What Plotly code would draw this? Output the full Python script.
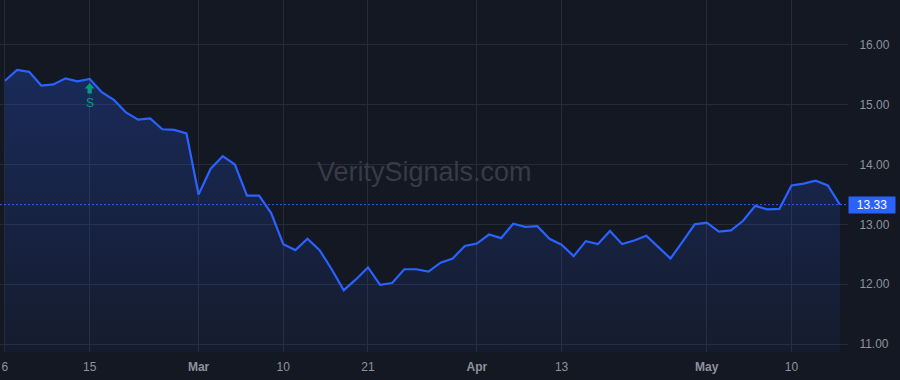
import plotly.graph_objects as go

dates = [
    "2023-02-06", "2023-02-07", "2023-02-08", "2023-02-09", "2023-02-10",
    "2023-02-13", "2023-02-14", "2023-02-15", "2023-02-16", "2023-02-17",
    "2023-02-21", "2023-02-22", "2023-02-23", "2023-02-24", "2023-02-27",
    "2023-02-28",
    "2023-03-01", "2023-03-02", "2023-03-03", "2023-03-06", "2023-03-07",
    "2023-03-08", "2023-03-09", "2023-03-10", "2023-03-13", "2023-03-14",
    "2023-03-15", "2023-03-16", "2023-03-17", "2023-03-20", "2023-03-21",
    "2023-03-22", "2023-03-23", "2023-03-24", "2023-03-27", "2023-03-28",
    "2023-03-29", "2023-03-30", "2023-03-31",
    "2023-04-03", "2023-04-04", "2023-04-05", "2023-04-06", "2023-04-10",
    "2023-04-11", "2023-04-12", "2023-04-13", "2023-04-14", "2023-04-17",
    "2023-04-18", "2023-04-19", "2023-04-20", "2023-04-21", "2023-04-24",
    "2023-04-25", "2023-04-26", "2023-04-27", "2023-04-28",
    "2023-05-01", "2023-05-02", "2023-05-03", "2023-05-04", "2023-05-05",
    "2023-05-08", "2023-05-09", "2023-05-10", "2023-05-11", "2023-05-12",
    "2023-05-15", "2023-05-16",
]

prices = [
    15.40, 15.58, 15.55, 15.32, 15.34, 15.44, 15.39, 15.43, 15.21, 15.08,
    14.87, 14.75, 14.77, 14.59, 14.58, 14.52, 13.50, 13.93, 14.14, 14.00,
    13.48, 13.48, 13.19, 12.67, 12.57, 12.76, 12.57, 12.25, 11.90, 12.08,
    12.28, 11.99, 12.02, 12.25, 12.25, 12.21, 12.36, 12.43, 12.64, 12.68,
    12.83, 12.77, 13.01, 12.96, 12.97, 12.76, 12.66, 12.47, 12.72, 12.67,
    12.89, 12.67, 12.73, 12.81, 12.62, 12.43, 12.71, 13.00, 13.03, 12.88,
    12.90, 13.06, 13.31, 13.25, 13.26, 13.65, 13.68, 13.73, 13.65, 13.33,
]

tick_dates = ["2023-02-06", "2023-02-15", "2023-03-01", "2023-03-10", "2023-03-21",
              "2023-04-03", "2023-04-13", "2023-05-01", "2023-05-10"]
tick_text = ["6", "15", "<b>Mar</b>", "10", "21", "<b>Apr</b>", "13", "<b>May</b>", "10"]

y_ticks = [11, 12, 13, 14, 15, 16]

signal_date = "2023-02-15"
signal_label = "S"
last_label = "13.33"

BG = "#141823"
GRID = "#262b37"
TXT = "#8e929b"
BLUE = "#2962ff"
GREEN = "#089981"
FONT = "Liberation Sans, Arial, sans-serif"

fig = go.Figure()
fig.add_trace(go.Scatter(
    x=dates, y=prices, mode="lines",
    line=dict(color=BLUE, width=2.2),
    fill="tozeroy",
    fillgradient=dict(type="vertical",
                      colorscale=[[0, "rgba(41,98,255,0.05)"], [1, "rgba(41,98,255,0.25)"]],
                      start=10.87, stop=15.6),
    hoverinfo="skip",
))

fig.add_shape(type="line", xref="paper", x0=0, x1=1, yref="y", y0=prices[-1], y1=prices[-1],
              line=dict(color=BLUE, width=1, dash="2px,2px"))

fig.add_annotation(x=1, xref="paper", xanchor="left", y=prices[-1], yref="y", yanchor="middle",
                   text=last_label, showarrow=False, bgcolor=BLUE,
                   font=dict(color="white", size=12, family=FONT),
                   width=44, height=14, borderpad=1)

fig.add_annotation(x=0.501, y=0.511, xref="paper", yref="paper", text="VeritySignals.com",
                   showarrow=False, font=dict(size=27, color="#373b47", family=FONT))

sig_i = dates.index(signal_date)
# up-arrow glyph, sized in pixels, anchored at the signal point
fig.add_shape(type="path", xref="x", yref="y",
              xsizemode="pixel", ysizemode="pixel",
              xanchor=signal_date, yanchor=prices[sig_i],
              path="M 0 -4 L 5 -9.5 L 2.2 -9.5 L 2.2 -14.5 L -2.2 -14.5 L -2.2 -9.5 L -5 -9.5 Z",
              fillcolor=GREEN, line=dict(width=0))
fig.add_annotation(x=signal_date, y=prices[sig_i], xref="x", yref="y",
                   text=signal_label, showarrow=False, yshift=-24, yanchor="middle",
                   font=dict(color=GREEN, size=12, family=FONT))

fig.update_layout(
    width=900, height=380,
    margin=dict(l=0, r=52, t=0, b=28),
    paper_bgcolor=BG, plot_bgcolor=BG,
    showlegend=False,
    font=dict(family=FONT, color=TXT, size=12),
    xaxis=dict(type="category", categoryorder="array", categoryarray=dates,
               range=[-0.41, 69.67], tickmode="array", tickvals=tick_dates, ticktext=tick_text,
               showgrid=True, gridcolor=GRID, gridwidth=1, zeroline=False,
               ticks="outside", ticklen=4, tickcolor="rgba(0,0,0,0)",
               showline=False, tickfont=dict(size=12, color=TXT)),
    yaxis=dict(side="right", range=[10.867, 16.75], tickmode="array", tickvals=y_ticks,
               tickformat=".2f", showgrid=True, gridcolor=GRID, gridwidth=1, zeroline=False,
               ticks="outside", ticklen=8, tickcolor="rgba(0,0,0,0)",
               showline=False, tickfont=dict(size=12, color=TXT)),
)

fig.write_html("out.html")
